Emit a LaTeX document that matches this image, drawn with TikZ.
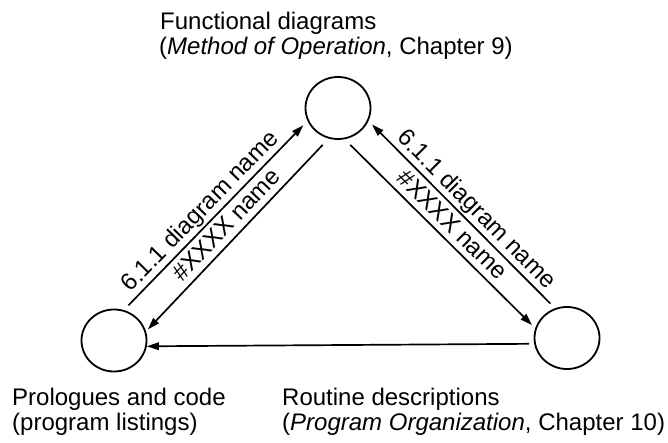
\documentclass[tikz,border=0pt]{standalone}
\usepackage{fontspec}
\setmainfont{Liberation Sans}
\usetikzlibrary{arrows.meta,shapes.geometric}
\begin{document}
\begin{tikzpicture}[x=1pt,y=-1pt,
  circ/.style={draw, ellipse, line width=1.8pt, minimum width=65pt, minimum height=62pt, inner sep=0pt},
  arr/.style={line width=1.7pt, -{Triangle[length=12pt,width=7.5pt]}},
  lbl/.style={font=\fontsize{24}{25}\selectfont, inner sep=0pt},
  dlbl/.style={lbl, sloped, anchor=south, text depth=0pt, outer sep=0pt, outer ysep=7pt},
]
\useasboundingbox (0,0) rectangle (668,443);
\node[circ] (T) at (338,108) {};
\node[circ] (L) at (114,340.5) {};
\node[circ] (R) at (567,338) {};

\draw[arr, shorten <=6.5pt, shorten >=6pt] (L.72.6) -- node[dlbl, pos=0.47] (a1) {6.1.1 diagram name} (T.203);
\draw[arr, shorten <=8.6pt, shorten >=2.7pt] (T.253.4) -- node[dlbl, pos=0.5] (a2) {\#XXXX name} (L.16.9);
\draw[arr, shorten <=8pt, shorten >=4.5pt] (T.282.9) -- node[dlbl, pos=0.51] (a4) {\#XXXX name} (R.163.6);
\draw[arr, shorten <=6.6pt, shorten >=5pt] (R.112.7) -- node[dlbl, pos=0.475] (a3) {6.1.1 diagram name} (T.337);
\draw[arr, shorten <=5pt] (R.190) -- (L.-10);

\node[lbl, anchor=base west] (t1) at (160,30) {Functional diagrams};
\node[lbl, anchor=base west] (t2) at (159,55) {(\textit{Method of Operation}, Chapter 9)};
\node[lbl, anchor=base west] (p1) at (12,405) {Prologues and code};
\node[lbl, anchor=base west] (p2) at (12,430) {(program listings)};
\node[lbl, anchor=base west] (r1) at (282,405) {Routine descriptions};
\node[lbl, anchor=base west] (r2) at (282,430) {(\textit{Program Organization}, Chapter 10)};
\end{tikzpicture}
\end{document}
